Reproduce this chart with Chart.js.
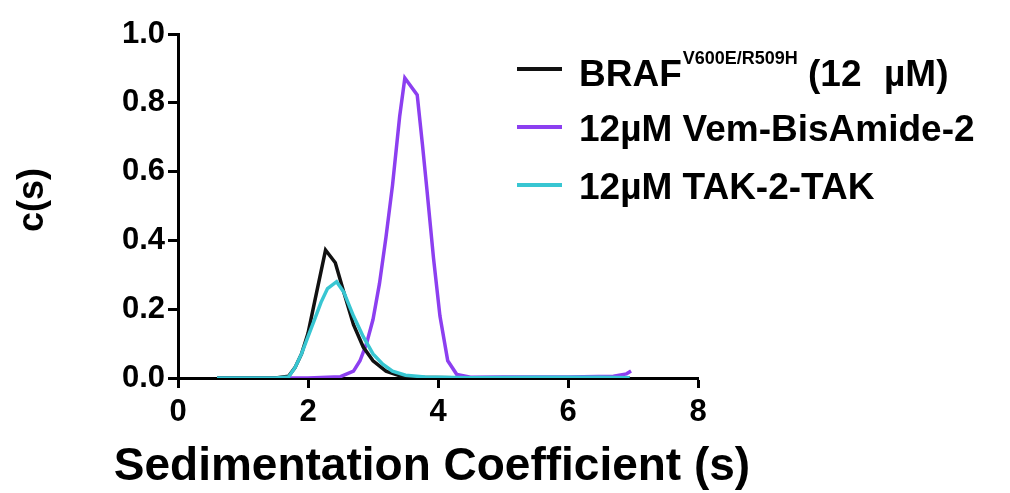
<!DOCTYPE html>
<html>
<head>
<meta charset="utf-8">
<script src="https://cdn.jsdelivr.net/npm/chart.js@4.4.1/dist/chart.umd.min.js"></script>
<style>
  html, body { margin: 0; padding: 0; background: #fff; }
  #wrap { width: 1010px; height: 493px; }
</style>
</head>
<body>
<div id="wrap"><canvas id="sedChart" width="1010" height="493"></canvas></div>
<script>
// c(s) distributions
const brafS = [0.6, 1.5, 1.7, 1.8, 1.9, 2.0, 2.1, 2.27, 2.42, 2.55, 2.7, 2.85, 3.0, 3.2, 3.4, 3.7, 4.5, 6.0, 6.95];
const brafC = [0, 0, 0.005, 0.03, 0.07, 0.13, 0.22, 0.372, 0.335, 0.25, 0.155, 0.09, 0.05, 0.02, 0.007, 0.002, 0, 0, 0];

const vemS = [0.6, 1.5, 2.0, 2.5, 2.7, 2.8, 2.9, 3.0, 3.1, 3.2, 3.3, 3.41, 3.49, 3.68, 3.76, 3.83, 3.93, 4.03, 4.15, 4.29, 4.5, 5.0, 6.0, 6.7, 6.9, 6.97];
const vemC = [0, 0, 0, 0.004, 0.02, 0.05, 0.1, 0.17, 0.275, 0.41, 0.56, 0.76, 0.872, 0.823, 0.68, 0.547, 0.35, 0.18, 0.05, 0.01, 0.002, 0.003, 0.003, 0.005, 0.012, 0.02];

const takS = [0.6, 1.5, 1.7, 1.8, 1.9, 2.0, 2.1, 2.2, 2.3, 2.44, 2.55, 2.7, 2.85, 3.0, 3.15, 3.3, 3.5, 3.8, 4.5, 5.5, 6.5, 6.95];
const takC = [0, 0, 0.003, 0.03, 0.07, 0.12, 0.17, 0.22, 0.26, 0.28, 0.25, 0.18, 0.12, 0.07, 0.04, 0.02, 0.008, 0.003, 0.001, 0.002, 0.002, 0.001];

const xTicks = [0, 2, 4, 6, 8];
const yTicks = [0, 0.2, 0.4, 0.6, 0.8, 1.0];

const FONT = "'Liberation Sans', Arial, Helvetica, sans-serif";

function pts(s, c) {
    return s.map((v, i) => ({ x: v, y: c[i] }));
}

// axis titles and the legend (legend needs a superscript)
const textPlugin = {
    id: 'textPlugin',
    afterDraw(chart) {
        const ctx = chart.ctx;
        ctx.save();
        ctx.fillStyle = '#000';
        ctx.font = 'bold 46px ' + FONT;
        ctx.textAlign = 'center';
        ctx.textBaseline = 'alphabetic';
        ctx.fillText('Sedimentation Coefficient (s)', 432, 480);

        ctx.save();
        ctx.translate(33, 200);
        ctx.rotate(-Math.PI / 2);
        ctx.font = 'bold 36px ' + FONT;
        ctx.textBaseline = 'middle';
        ctx.fillText('c(s)', 0, 0);
        ctx.restore();

        const rows = [
            { color: '#111111', y: 69, base: 86 },
            { color: '#8c3ff0', y: 127, base: 141 },
            { color: '#38c6d2', y: 185, base: 199 }
        ];
        ctx.lineWidth = 4;
        rows.forEach(r => {
            ctx.strokeStyle = r.color;
            ctx.beginPath();
            ctx.moveTo(517, r.y);
            ctx.lineTo(562, r.y);
            ctx.stroke();
        });
        ctx.textAlign = 'left';
        ctx.font = 'bold 37px ' + FONT;
        let x = 579;
        ctx.fillText('BRAF', x, rows[0].base);
        x += ctx.measureText('BRAF').width + 1;
        ctx.font = 'bold 18px ' + FONT;
        ctx.fillText('V600E/R509H', x, rows[0].base - 22);
        ctx.font = 'bold 37px ' + FONT;
        ctx.fillText('(12', 808, rows[0].base);
        ctx.fillText('\u00b5M)', 884, rows[0].base);
        ctx.fillText('12\u00b5M Vem-BisAmide-2', 579, rows[1].base);
        ctx.fillText('12\u00b5M TAK-2-TAK', 579, rows[2].base);
        ctx.restore();
    }
};

new Chart(document.getElementById('sedChart'), {
    type: 'line',
    data: {
        datasets: [{
            label: 'BRAF V600E/R509H (12 \u00b5M)',
            data: pts(brafS, brafC),
            borderColor: '#111111',
            order: 2
        }, {
            label: '12\u00b5M Vem-BisAmide-2',
            data: pts(vemS, vemC),
            borderColor: '#8c3ff0',
            order: 3
        }, {
            label: '12\u00b5M TAK-2-TAK',
            data: pts(takS, takC),
            borderColor: '#38c6d2',
            order: 1
        }]
    },
    options: {
        responsive: false,
        animation: false,
        elements: {
            line: { borderWidth: 3.5, tension: 0, fill: false },
            point: { radius: 0 }
        },
        layout: { padding: { top: 34, right: 312, bottom: 0, left: 0 } },
        plugins: {
            legend: { display: false },
            tooltip: { enabled: false }
        },
        scales: {
            x: {
                type: 'linear',
                min: 0,
                max: 8,
                afterBuildTicks: s => { s.ticks = xTicks.map(v => ({ value: v })); },
                afterFit: s => { s.height = 115; },
                ticks: {
                    color: '#000',
                    padding: 6,
                    font: { family: FONT, size: 31, weight: 'bold' }
                },
                grid: { drawOnChartArea: false, tickLength: 10, tickWidth: 3, tickColor: '#000' },
                border: { color: '#000', width: 3 }
            },
            y: {
                min: 0,
                max: 1,
                afterBuildTicks: s => { s.ticks = yTicks.map(v => ({ value: v })); },
                afterFit: s => { s.width = 178; },
                ticks: {
                    color: '#000',
                    padding: 3,
                    callback: v => v.toFixed(1),
                    font: { family: FONT, size: 31, weight: 'bold' }
                },
                grid: { drawOnChartArea: false, tickLength: 10, tickWidth: 3, tickColor: '#000' },
                border: { color: '#000', width: 3 }
            }
        }
    },
    plugins: [textPlugin]
});
</script>
</body>
</html>
